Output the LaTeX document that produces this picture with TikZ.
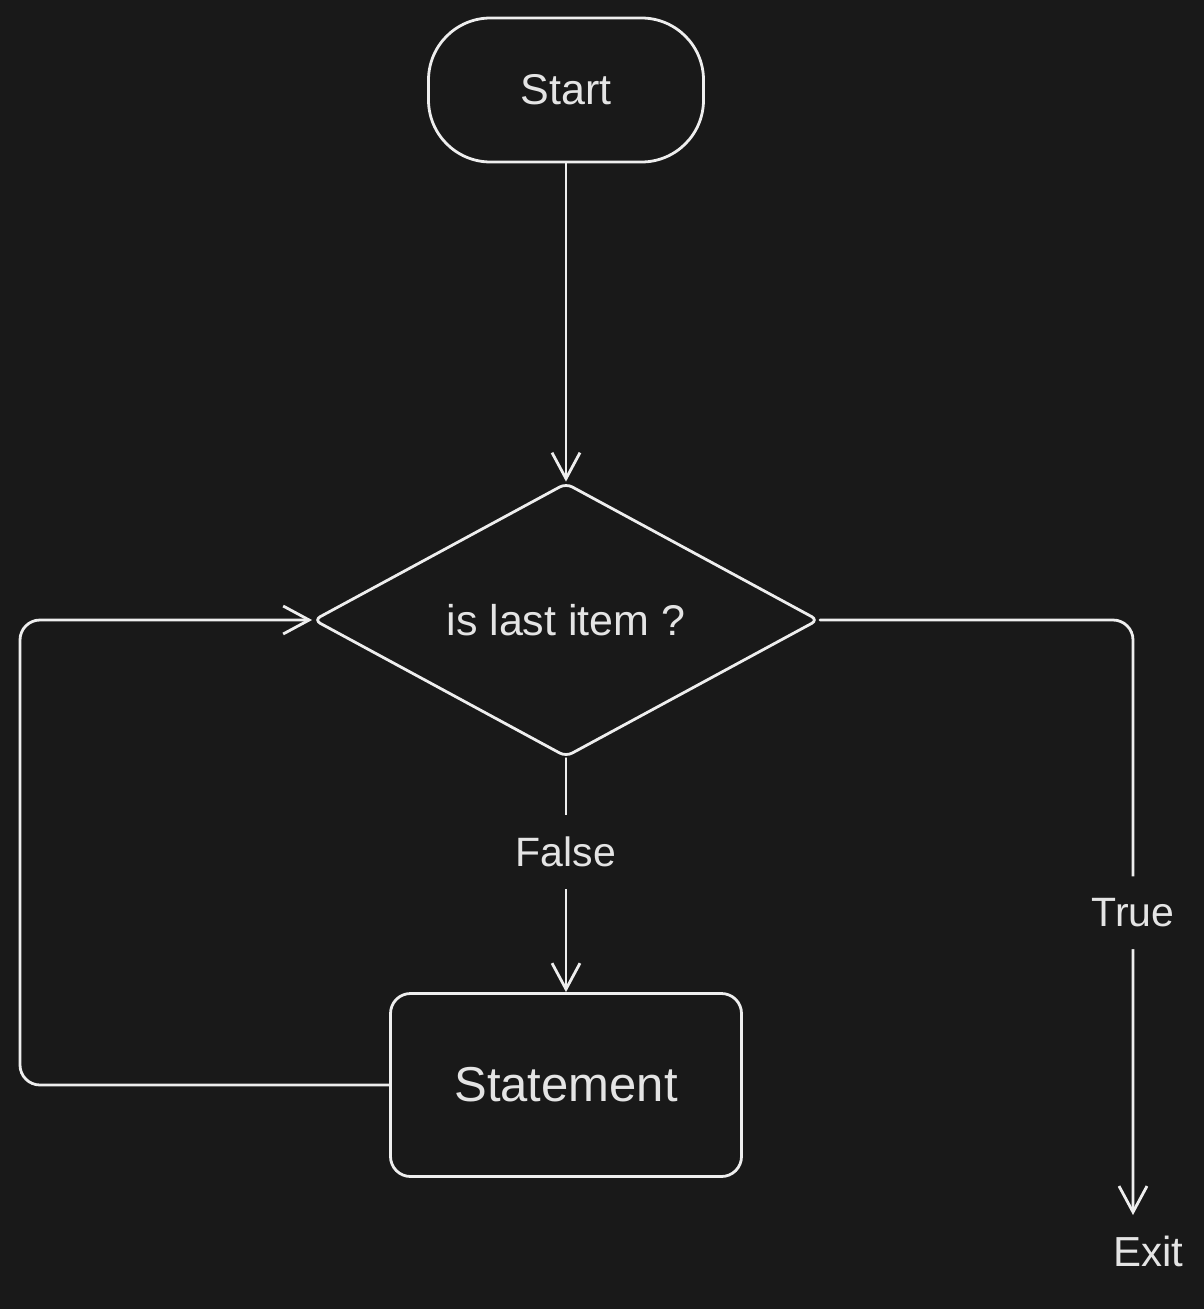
\documentclass[tikz,border=0pt]{standalone}
\usepackage{fontspec}
\setmainfont{Liberation Sans}
\usetikzlibrary{shapes.geometric,arrows.meta}
\definecolor{bgc}{HTML}{191919}
\definecolor{linec}{HTML}{EEEEEE}
\definecolor{textc}{HTML}{E4E4E4}
\tikzset{
  shapebox/.style={draw=linec, line width=2.8pt, text=textc, inner sep=0pt},
  conn/.style={draw=linec, line width=2.8pt, line cap=round,
    -{Straight Barb[length=26pt,width=28pt,line width=2.8pt]}},
  lbl/.style={fill=bgc, text=textc, inner xsep=3pt, inner ysep=22pt, font=\fontsize{41}{48}\selectfont},
  txt/.style={font=\fontsize{43}{50}\selectfont}
}
\begin{document}
\begin{tikzpicture}[x=1pt,y=-1pt]
  \fill[bgc] (0,0) rectangle (1204,1309);
  \useasboundingbox (0,0) rectangle (1204,1309);
  \node[shapebox, txt, rectangle, rounded corners=62pt, minimum width=275pt, minimum height=144pt] (start) at (566,90) {Start};
  \node[shapebox, txt, diamond, rounded corners=7pt, minimum width=505pt, minimum height=274pt] (dec) at (566,620) {is last item ?};
  \node[shapebox, rectangle, rounded corners=20pt, minimum width=351pt, minimum height=183pt, font=\fontsize{49}{56}\selectfont] (stmt) at (566,1085) {Statement};
  \node[text=textc, font=\fontsize{42}{48}\selectfont, inner sep=0pt] (exit) at (1148,1251) {Exit};
  \coordinate (exitin) at (1133,1215);
  \coordinate (loopc) at (20,1085);
  \draw[conn] (start.south) -- (dec.north);
  \draw[conn] (dec.south) -- node[lbl, pos=0.40] {False} (stmt.north);
  \draw[conn, rounded corners=20pt] (stmt.west) -- (loopc) |- (dec.west);
  \draw[conn, rounded corners=20pt] (dec.east) -| node[lbl, pos=0.746] {True} (exitin);
\end{tikzpicture}
\end{document}
